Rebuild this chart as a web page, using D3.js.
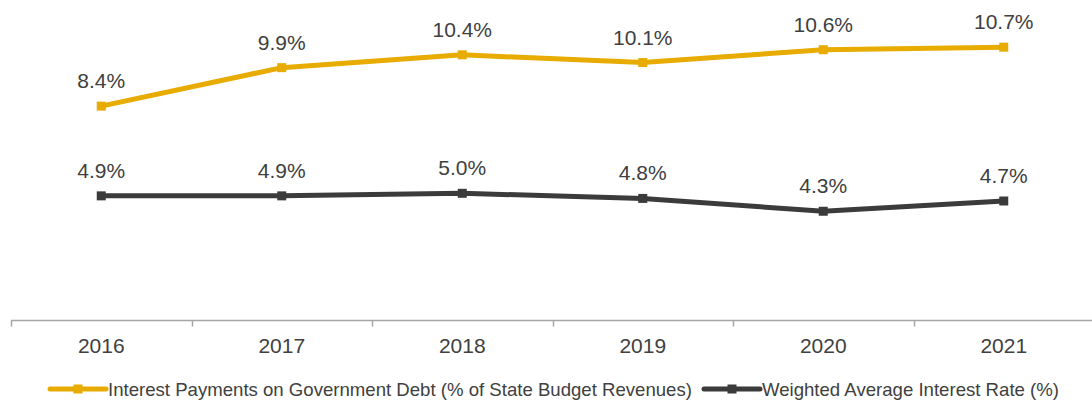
<!DOCTYPE html>
<html><head><meta charset="utf-8">
<script src="https://cdn.jsdelivr.net/npm/d3@7"></script>
<style>body{margin:0;background:#fff}svg{display:block;font-family:"Liberation Sans",Arial,sans-serif}</style>
</head><body><svg id="c" width="1092" height="400"></svg>
<script>
const years = ["2016","2017","2018","2019","2020","2021"];
const interestPayments = [8.4, 9.9, 10.4, 10.1, 10.6, 10.7];
const avgRate = [4.9, 4.9, 5.0, 4.8, 4.3, 4.7];
const seriesNames = ["Interest Payments on Government Debt (% of State Budget Revenues)", "Weighted Average Interest Rate (%)"];
const colors = ["#E8AB00", "#3B3B3B"];

const svg = d3.select("#c");
const x = d3.scaleBand().domain(years).range([11, 1094]);
const y = d3.scaleLinear().domain([0, 12.5]).range([321.5, 1]);

// axis
const ax = svg.append("g").attr("transform","translate(0,320.5)");
ax.append("line").attr("x1",11).attr("x2",1092).attr("stroke","#A6A6A6").attr("stroke-width",1.5);
const tickPos = years.map(d=>x(d)).concat([x(years[5])+x.bandwidth()]);
ax.selectAll("line.t").data(tickPos).join("line").attr("class","t")
  .attr("x1",d=>Math.round(d)+0.5).attr("x2",d=>Math.round(d)+0.5).attr("y1",0).attr("y2",6)
  .attr("stroke","#A6A6A6").attr("stroke-width",1.5);
ax.selectAll("text").data(years).join("text")
  .attr("x",d=>x(d)+x.bandwidth()/2).attr("y",32).attr("text-anchor","middle")
  .attr("font-size",21).attr("fill","#404040").text(d=>d);

const series = [interestPayments, avgRate];
series.forEach((vals,i)=>{
  const pts = vals.map((v,j)=>[x(years[j])+x.bandwidth()/2, y(v), v]);
  svg.append("path").datum(pts).attr("fill","none").attr("stroke",colors[i]).attr("stroke-width",5)
    .attr("d", d3.line().x(d=>d[0]).y(d=>d[1]));
  svg.selectAll(null).data(pts).join("rect")
    .attr("x",d=>d[0]-4.5).attr("y",d=>d[1]-4.5).attr("width",9).attr("height",9).attr("fill",colors[i]);
  svg.selectAll(null).data(pts).join("text")
    .attr("x",d=>d[0]).attr("y",d=>d[1]-18).attr("text-anchor","middle")
    .attr("font-size",21).attr("fill","#404040").text(d=>d[2].toFixed(1)+"%");
});

// legend
const leg = [{x:50,name:seriesNames[0],c:colors[0]},{x:704,name:seriesNames[1],c:colors[1]}];
leg.forEach(l=>{
  const g = svg.append("g").attr("transform",`translate(${l.x},389)`);
  g.append("line").attr("x1",0).attr("x2",56).attr("stroke",l.c).attr("stroke-width",5).attr("stroke-linecap","round");
  g.append("rect").attr("x",23.5).attr("y",-4.5).attr("width",9).attr("height",9).attr("fill",l.c);
  g.append("text").attr("x",58).attr("y",6.5).attr("font-size",18.6).attr("fill","#404040").text(l.name);
});
</script></body></html>
